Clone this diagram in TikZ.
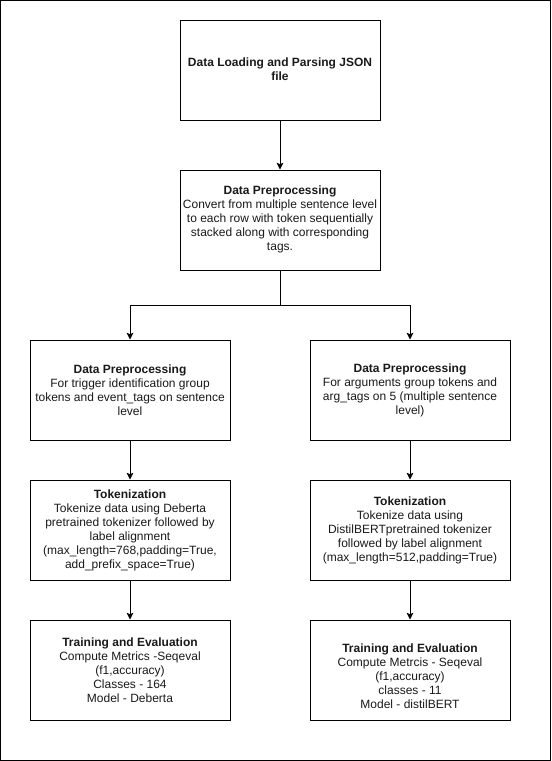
\documentclass[tikz,border=0pt]{standalone}
\usepackage{fontspec}
\setmainfont{Liberation Sans}
\usetikzlibrary{arrows.meta}
\begin{document}
\begin{tikzpicture}[x=0.75pt,y=-0.75pt,
  box/.style={draw=black,line width=0.75pt,minimum width=150pt,minimum height=75pt,inner sep=0pt},
  txt/.style={align=center,inner sep=0pt,font=\fontsize{9}{10.5}\selectfont,text=black!90},
  conn/.style={draw=black,line width=0.75pt,-{Stealth[length=5pt,width=5pt,inset=1pt]}}]
\useasboundingbox (0,0) rectangle (551,761);
\draw[line width=1pt] (0.6,0.6) rectangle (550.4,760.4);
% boxes
\node[box] (b1) at (280,70) {};
\node[box] (b2) at (280,220) {};
\node[box] (b3l) at (130,390) {};
\node[box] (b3r) at (410,390) {};
\node[box] (b4l) at (130,530) {};
\node[box] (b4r) at (410,530) {};
\node[box] (b5l) at (130,670) {};
\node[box] (b5r) at (410,670) {};
% texts
\node[txt] (t1) at (280,69) {\textbf{Data Loading and Parsing JSON}\\\textbf{file}};
\node[txt] (t2) at (280,219) {\textbf{Data Preprocessing}\\Convert from multiple sentence level\\to each row with token sequentially\\stacked along with corresponding\\tags.};
\node[txt] (t3l) at (130,390) {\textbf{Data Preprocessing}\\For trigger identification group\\tokens and event\_tags on sentence\\level};
\node[txt] (t3r) at (410,390) {\textbf{Data Preprocessing}\\For arguments group tokens and\\arg\_tags on 5 (multiple sentence\\level)};
\node[txt] (t4l) at (130,530) {\textbf{Tokenization}\\Tokenize data using Deberta\\pretrained tokenizer followed by\\label alignment\\(max\_length=768,padding=True,\\add\_prefix\_space=True)};
\node[txt] (t4r) at (410,530) {\textbf{Tokenization}\\Tokenize data using\\DistilBERTpretrained tokenizer\\followed by label alignment\\(max\_length=512,padding=True)};
\node[txt] (t5l) at (130,670) {\textbf{Training and Evaluation}\\Compute Metrics -Seqeval\\(f1,accuracy)\\Classes - 164\\Model - Deberta};
\node[txt] (t5r) at (410,676) {\textbf{Training and Evaluation}\\Compute Metrcis - Seqeval\\(f1,accuracy)\\classes - 11\\Model - distilBERT};
% connectors
\coordinate (split) at (280,305);
\draw[conn] (b1.south) -- (b2.north);
\draw[conn] (b2.south) -- (split) -| (b3l.north);
\draw[conn] (split) -| (b3r.north);
\draw[conn] (b3l.south) -- (b4l.north);
\draw[conn] (b3r.south) -- (b4r.north);
\draw[conn] (b4l.south) -- (b5l.north);
\draw[conn] (b4r.south) -- (b5r.north);
\end{tikzpicture}
\end{document}
